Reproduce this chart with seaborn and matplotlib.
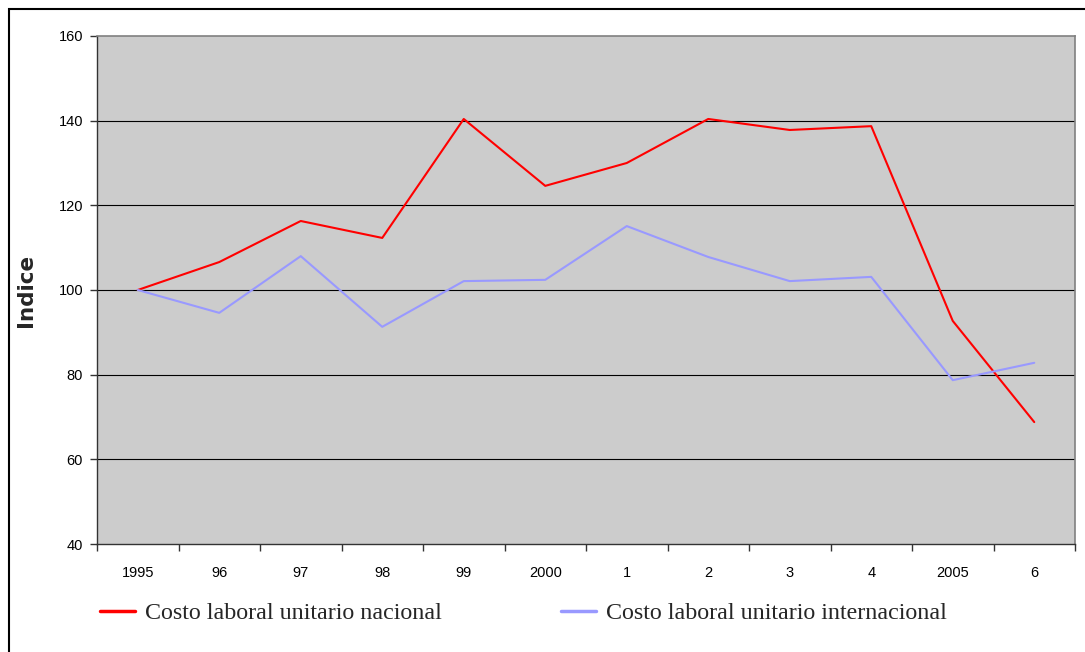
import numpy as np
import pandas as pd
import matplotlib
matplotlib.use("Agg")
import matplotlib.pyplot as plt
from matplotlib.lines import Line2D
from matplotlib.patches import Rectangle
import seaborn as sns

# Índices de costo laboral unitario (base 1995 = 100)
years = ["1995", "96", "97", "98", "99", "2000", "1", "2", "3", "4", "2005", "6"]
nacional = [100.0, 106.6, 116.3, 112.3, 140.4, 124.6, 130.0, 140.4, 137.8, 138.7, 92.7, 68.8]
internacional = [100.0, 94.6, 108.0, 91.3, 102.1, 102.4, 115.1, 107.8, 102.1, 103.1, 78.7, 82.8]
series_names = ["Costo laboral unitario nacional", "Costo laboral unitario internacional"]
series_colors = ["#FF0000", "#9999FF"]

df = pd.DataFrame({
    "pos": list(range(len(years))) * 2,
    "valor": nacional + internacional,
    "serie": [series_names[0]] * len(years) + [series_names[1]] * len(years),
})

sns.set_theme(style="white")
plt.rcParams["font.family"] = ["Liberation Sans", "DejaVu Sans"]

fig = plt.figure(figsize=(10.85, 6.52), dpi=100)
ax = fig.add_axes([97 / 1085, 1 - 544 / 652, (1075 - 97) / 1085, (544 - 36) / 652])
ax.set_facecolor("#CCCCCC")

sns.lineplot(data=df, x="pos", y="valor", hue="serie", palette=series_colors,
             linewidth=1.5, ax=ax, legend=False, zorder=3)

ax.set_xlim(-0.5, len(years) - 0.5)
ax.set_ylim(40, 160)
ax.set_yticks(np.arange(40, 161, 20))
for yv in range(60, 160, 20):
    ax.axhline(yv, color="black", linewidth=0.8, zorder=1)

ax.set_xticks(range(len(years)))
ax.set_xticklabels(years)
ax.set_xticks(np.arange(-0.5, len(years), 1.0), minor=True)
ax.tick_params(axis="x", which="major", length=0, pad=16, labelsize=10.5, colors="black")
ax.tick_params(axis="x", which="minor", length=5, width=1, color="#333333", bottom=True)
ax.tick_params(axis="y", which="major", length=5, width=1, color="#333333",
               pad=5, labelsize=10.5, left=True, labelcolor="black")

for side in ["top", "right"]:
    ax.spines[side].set_color("#808080")
    ax.spines[side].set_linewidth(1.2)
for side in ["left", "bottom"]:
    ax.spines[side].set_color("#333333")
    ax.spines[side].set_linewidth(1.0)

ax.set_xlabel("")
ax.set_ylabel("")
fig.text(26 / 1085, 1 - 290 / 652, "Indice", rotation=90, ha="center", va="center",
         fontsize=15.5, fontweight="bold", family="DejaVu Sans")

handles = [Line2D([0], [0], color=c, linewidth=2.5) for c in series_colors]
fig.legend(handles, series_names, loc="center left", ncol=2,
           bbox_to_anchor=(100 / 1085, 1 - 613 / 652), frameon=False,
           prop={"family": "Liberation Serif", "size": 17.3},
           handlelength=1.46, handletextpad=0.42, columnspacing=4.96,
           borderaxespad=0, borderpad=0)

# marco exterior del gráfico
fig.patches.append(Rectangle((9 / 1085, -0.05), 1.2, 1 - 9 / 652 + 0.05,
                             transform=fig.transFigure, fill=False,
                             edgecolor="black", linewidth=1.5))

fig.savefig("out.png", dpi=100)
